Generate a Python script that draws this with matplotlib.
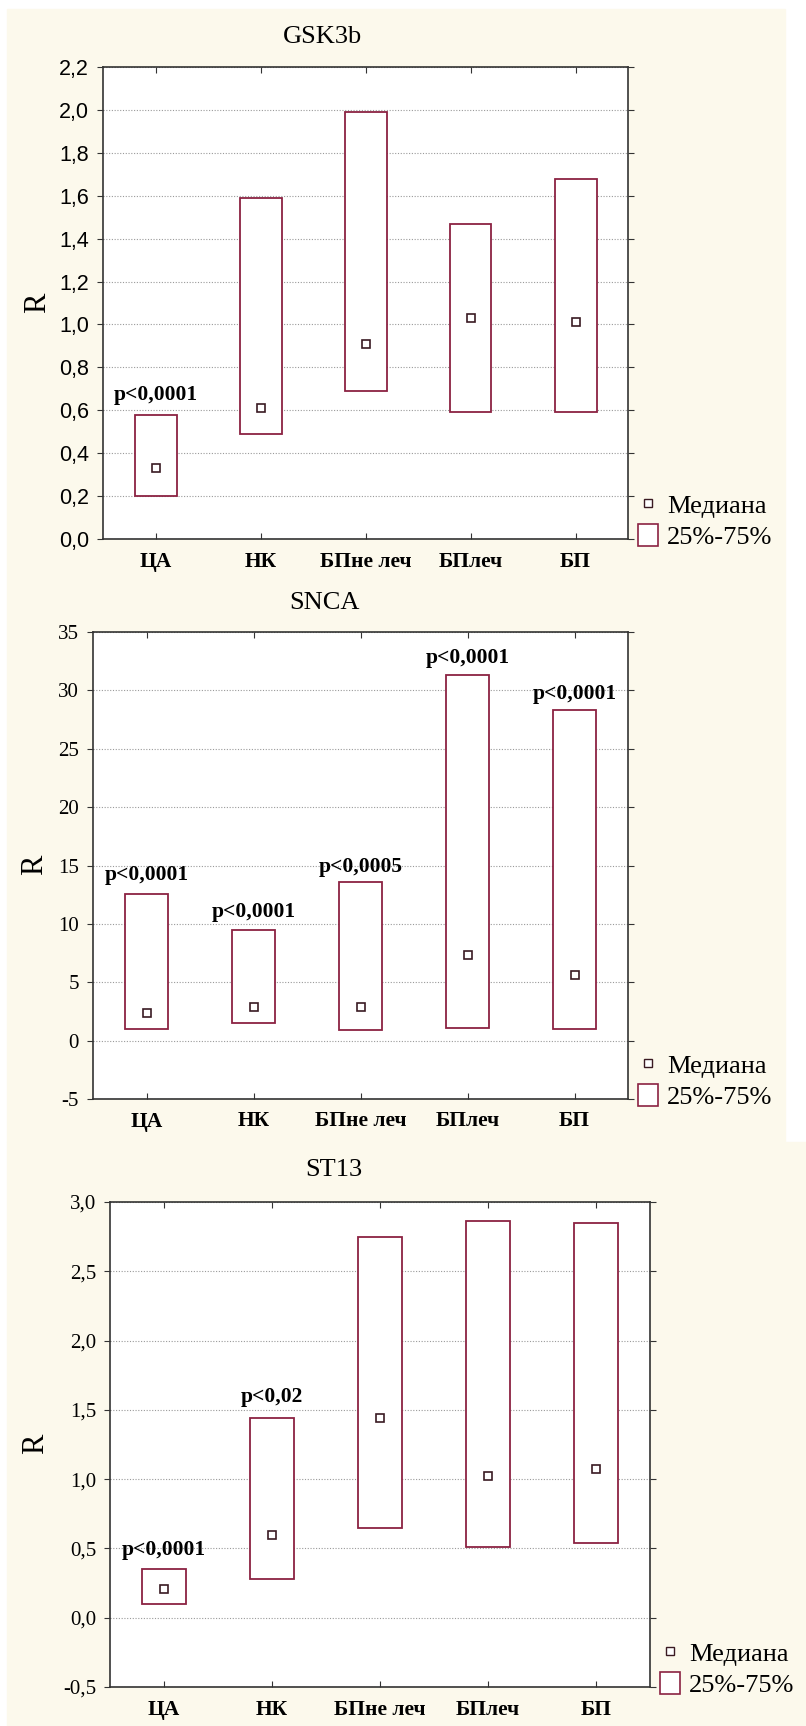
import numpy as np
import matplotlib
matplotlib.use('Agg')
import matplotlib.pyplot as plt
from matplotlib.patches import Rectangle
from matplotlib.lines import Line2D
from matplotlib.ticker import FuncFormatter

# --- data ---
categories = ['ЦА', 'НК', 'БПне леч', 'БПлеч', 'БП']

gsk_q1 = [0.20, 0.49, 0.69, 0.59, 0.59]
gsk_q3 = [0.58, 1.59, 1.99, 1.47, 1.68]
gsk_med = [0.33, 0.61, 0.91, 1.03, 1.01]
gsk_p = ['p<0,0001', None, None, None, None]
gsk_p_y = [0.67, None, None, None, None]

snca_q1 = [1.0, 1.5, 0.9, 1.1, 1.0]
snca_q3 = [12.6, 9.5, 13.6, 31.3, 28.3]
snca_med = [2.4, 2.9, 2.9, 7.3, 5.6]
snca_p = ['p<0,0001', 'p<0,0001', 'p<0,0005', 'p<0,0001', 'p<0,0001']
snca_p_y = [14.15, 11.0, 14.85, 32.8, 29.7]

st13_q1 = [0.10, 0.28, 0.65, 0.51, 0.54]
st13_q3 = [0.35, 1.44, 2.75, 2.86, 2.85]
st13_med = [0.21, 0.60, 1.44, 1.02, 1.07]
st13_p = ['p<0,0001', 'p<0,02', None, None, None]
st13_p_y = [0.49, 1.59, None, None, None]

W, H = 806, 1726
BG = '#FCF9EC'
BOX = '#8B2242'
MED = '#3A1A22'
FRAME = '#333333'
SERIF = 'Liberation Serif'
SANS = 'Liberation Sans'


def px_rect(left, top, right, bottom):
    return [left / W, 1 - bottom / H, (right - left) / W, (bottom - top) / H]


def comma(v, pos):
    return ('%.1f' % v).replace('.', ',')


def draw_panel(fig, frame, q1, q3, med, p_text, p_y, ylim, yticks, fmt,
               tick_family, tick_size, title, title_px, ylabel_px):
    ax = fig.add_axes(px_rect(*frame))
    x = np.arange(1, len(categories) + 1)
    q1 = np.array(q1)
    q3 = np.array(q3)

    ax.bar(x, q3 - q1, bottom=q1, width=0.4, facecolor='white',
           edgecolor=BOX, linewidth=1.3, zorder=2)
    ax.plot(x, med, 's', ms=5.5, mfc='white', mec=MED, mew=1.2, zorder=3)

    for i, t in enumerate(p_text):
        if t is not None:
            ax.text(x[i], p_y[i], t, ha='center', va='center',
                    family=SERIF, fontweight='bold', fontsize=15.5, zorder=4)

    ax.set_xlim(0.5, 5.5)
    ax.set_ylim(*ylim)
    ax.set_yticks(yticks)
    ax.yaxis.set_major_formatter(FuncFormatter(fmt))

    ax.tick_params(axis='x', direction='in', top=True, length=4, pad=9,
                   color=FRAME, labelfontfamily=SERIF, labelsize=15)
    ax.tick_params(axis='y', direction='out', right=True, length=4, pad=6,
                   color=FRAME, labelfontfamily=tick_family, labelsize=tick_size)
    ax.set_xticks(x, labels=categories, fontweight='bold', family=SERIF,
                  fontsize=15.5)
    ax.yaxis.grid(True, linestyle=(0, (1, 1.5)), color='#9a9a9a', lw=0.8)
    ax.set_axisbelow(True)
    for s in ax.spines.values():
        s.set_color(FRAME)
        s.set_linewidth(1.2)

    fig.text(title_px[0] / W, 1 - title_px[1] / H, title, ha='center',
             va='center', family=SERIF, fontsize=19)
    fig.text(ylabel_px[0] / W, 1 - ylabel_px[1] / H, 'R', ha='center',
             va='center', rotation=90, family=SERIF, fontsize=22)

    handles = [Line2D([], [], marker='s', ls='none', ms=5.5, mfc='white',
                      mec=MED, mew=1.0),
               Rectangle((0, 0), 1, 1, facecolor='white', edgecolor=BOX, lw=1.2)]
    right, bottom = frame[2], frame[3]
    ax.legend(handles, ['Медиана', '25%-75%'], loc='lower left',
              bbox_to_anchor=((right + 10) / W, 1 - (bottom + 10) / H),
              bbox_transform=fig.transFigure, frameon=False, borderpad=0,
              borderaxespad=0, handlelength=0.75, handleheight=0.95,
              handletextpad=0.35, labelspacing=0.2,
              prop={'family': SERIF, 'size': 19})
    return ax


fig = plt.figure(figsize=(W / 100, H / 100), dpi=100, facecolor='white')
fig.patches.append(Rectangle((7 / W, 1 - 1142 / H), (785 - 7) / W, (1142 - 9) / H,
                             transform=fig.transFigure, color=BG, zorder=-1))
fig.patches.append(Rectangle((7 / W, 0), (806 - 7) / W, (1726 - 1142) / H,
                             transform=fig.transFigure, color=BG, zorder=-1))

draw_panel(fig, (103, 67, 628, 539), gsk_q1, gsk_q3, gsk_med, gsk_p, gsk_p_y,
           (0, 2.2), np.arange(0, 2.21, 0.2), comma, SANS, 15.5,
           'GSK3b', (323, 37), (38, 303))
draw_panel(fig, (93, 632, 628, 1099), snca_q1, snca_q3, snca_med, snca_p, snca_p_y,
           (-5, 35), np.arange(-5, 36, 5), lambda v, p: '%d' % v, SERIF, 15,
           'SNCA', (324, 603), (35, 865))
draw_panel(fig, (110, 1202, 650, 1687), st13_q1, st13_q3, st13_med, st13_p, st13_p_y,
           (-0.5, 3.0), np.arange(-0.5, 3.01, 0.5), comma, SERIF, 15,
           'ST13', (334, 1170), (36, 1444))

fig.savefig('out.png', dpi=100, facecolor='white')
